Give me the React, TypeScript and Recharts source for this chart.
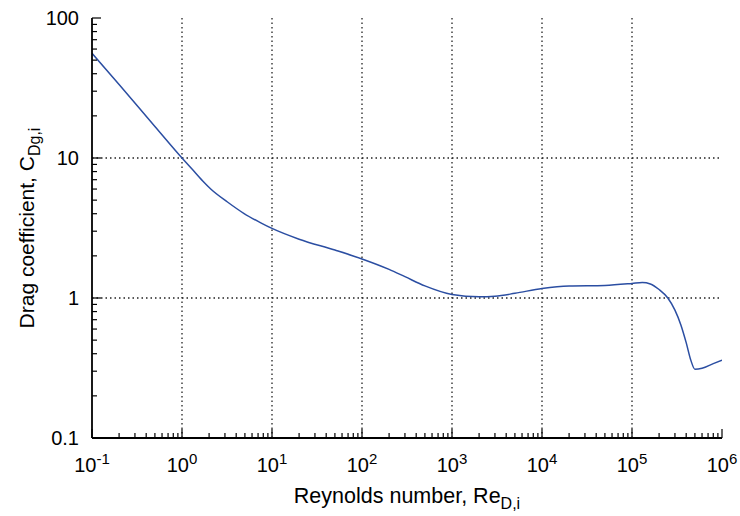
import { Label, Line, LineChart, ReferenceLine, XAxis, YAxis } from "recharts";

// 読み取り値: Re と C_Dg,i
const reValues = [
  0.1, 0.2, 0.5, 1, 1.3, 1.7, 2.1, 3.2, 4.9, 7.6, 10, 20, 50, 100, 200, 300, 500, 1000, 2000, 3000, 5000,
  1e4, 2e4, 5e4, 1e5, 1.3e5, 1.6e5, 2e5, 2.5e5, 3e5, 3.5e5, 4e5, 4.5e5, 5e5, 6e5, 8e5, 1e6,
];
const cdValues = [
  56, 33.5, 16.8, 10, 8.3, 6.85, 5.98, 4.85, 4.01, 3.43, 3.14, 2.63, 2.2, 1.9, 1.6, 1.42, 1.22, 1.06, 1.02, 1.03, 1.08,
  1.17, 1.22, 1.23, 1.27, 1.29, 1.26, 1.15, 1.0, 0.82, 0.64, 0.48, 0.36, 0.31, 0.315, 0.34, 0.36,
];

const xMajor = [0.1, 1, 10, 100, 1e3, 1e4, 1e5, 1e6];
const yMajor = [0.1, 1, 10, 100];
const yTickLabels = ["0.1", "1", "10", "100"];

const minorOf = (majors: number[]) => {
  const out: number[] = [];
  majors.forEach((m, i) => {
    out.push(m);
    if (i < majors.length - 1) for (let k = 2; k <= 9; k++) out.push(m * k);
  });
  return out;
};
const xTicks = minorOf(xMajor);
const yTicks = minorOf(yMajor);

const data = reValues.map((re, i) => ({ re, cd: cdValues[i] }));

const FONT = "'Liberation Sans', Arial, sans-serif";
const LINE_COLOR = "#2b4ea2";

const isMajor = (v: number) => Math.abs(Math.log10(v) - Math.round(Math.log10(v))) < 1e-9;

function XTick(props: any) {
  const { x, y, payload, side } = props;
  const v = payload.value as number;
  const major = isMajor(v);
  const len = major ? 9 : 5;
  const dir = side === "bottom" ? -1 : 1;
  const exp = Math.round(Math.log10(v));
  return (
    <g>
      <line x1={x} y1={y} x2={x} y2={y + dir * len} stroke="#000" strokeWidth={1.2} />
      {side === "bottom" && major && (
        <text x={x} y={y + 34} textAnchor="middle" fontSize={20} fontFamily={FONT} fill="#000">
          10
          <tspan dy={-8} fontSize={15}>
            {exp}
          </tspan>
        </text>
      )}
    </g>
  );
}

function YTick(props: any) {
  const { x, y, payload, side } = props;
  const v = payload.value as number;
  const major = isMajor(v);
  const len = major ? 9 : 5;
  const dir = side === "left" ? 1 : -1;
  const idx = yMajor.findIndex((m) => Math.abs(m - v) < 1e-9);
  return (
    <g>
      <line x1={x} y1={y} x2={x + dir * len} y2={y} stroke="#000" strokeWidth={1.2} />
      {side === "left" && major && idx >= 0 && (
        <text x={x - 13} y={y + 7} textAnchor="end" fontSize={20} fontFamily={FONT} fill="#000">
          {yTickLabels[idx]}
        </text>
      )}
    </g>
  );
}

export default function App() {
  return (
    <div style={{ position: "absolute", left: 0, top: 0, width: 740, height: 516, background: "#fff" }}>
      <LineChart width={740} height={516} data={data} margin={{ top: 18, right: 18, left: 0, bottom: 0 }}>
        <XAxis
          xAxisId="b"
          dataKey="re"
          type="number"
          scale="log"
          domain={[0.1, 1e6]}
          allowDataOverflow
          ticks={xTicks}
          interval={0}
          height={78}
          tickSize={0}
          tickMargin={0}
          tickLine={false}
          axisLine={{ stroke: "#000", strokeWidth: 1.8 }}
          tick={(p: any) => <XTick {...p} side="bottom" />}
        >
          <Label
            content={(p: any) => {
              const vb = p.viewBox;
              return (
                <text
                  x={vb.x + vb.width / 2}
                  y={vb.y + 65}
                  textAnchor="middle"
                  fontSize={21.5}
                  fontFamily={FONT}
                  fill="#000"
                >
                  Reynolds number, Re
                  <tspan dy={6} fontSize={16}>
                    D,i
                  </tspan>
                </text>
              );
            }}
          />
        </XAxis>
        <XAxis
          xAxisId="t"
          dataKey="re"
          type="number"
          scale="log"
          orientation="top"
          domain={[0.1, 1e6]}
          allowDataOverflow
          ticks={xTicks}
          interval={0}
          height={0}
          tickSize={0}
          tickMargin={0}
          tickLine={false}
          axisLine={{ stroke: "#000", strokeWidth: 1.8 }}
          tick={(p: any) => <XTick {...p} side="top" />}
        />
        <YAxis
          yAxisId="l"
          type="number"
          scale="log"
          domain={[0.1, 100]}
          allowDataOverflow
          ticks={yTicks}
          interval={0}
          width={92}
          tickSize={0}
          tickMargin={0}
          tickLine={false}
          axisLine={{ stroke: "#000", strokeWidth: 1.8 }}
          tick={(p: any) => <YTick {...p} side="left" />}
        >
          <Label
            content={(p: any) => {
              const vb = p.viewBox;
              const cx = 34;
              const cy = vb.y + vb.height / 2;
              return (
                <text
                  x={cx}
                  y={cy}
                  transform={`rotate(-90, ${cx}, ${cy})`}
                  textAnchor="middle"
                  fontSize={21}
                  fontFamily={FONT}
                  fill="#000"
                >
                  Drag coefficient, C
                  <tspan dy={6} fontSize={16}>
                    Dg,i
                  </tspan>
                </text>
              );
            }}
          />
        </YAxis>
        <YAxis
          yAxisId="r"
          type="number"
          scale="log"
          orientation="right"
          domain={[0.1, 100]}
          allowDataOverflow
          ticks={yTicks}
          interval={0}
          width={0}
          tickSize={0}
          tickMargin={0}
          tickLine={false}
          axisLine={{ stroke: "#000", strokeWidth: 1.8 }}
          tick={(p: any) => <YTick {...p} side="right" />}
        />
        {xMajor.slice(1, -1).map((v) => (
          <ReferenceLine
            key={`gx${v}`}
            x={v}
            xAxisId="b"
            yAxisId="l"
            stroke="#222"
            strokeWidth={1.3}
            strokeDasharray="1.5 3"
          />
        ))}
        {yMajor.slice(1, -1).map((v) => (
          <ReferenceLine
            key={`gy${v}`}
            y={v}
            xAxisId="b"
            yAxisId="l"
            stroke="#222"
            strokeWidth={1.3}
            strokeDasharray="1.5 3"
          />
        ))}
        <Line
          xAxisId="b"
          yAxisId="l"
          type="monotone"
          dataKey="cd"
          stroke={LINE_COLOR}
          strokeWidth={1.5}
          dot={false}
          isAnimationActive={false}
        />
      </LineChart>
    </div>
  );
}
